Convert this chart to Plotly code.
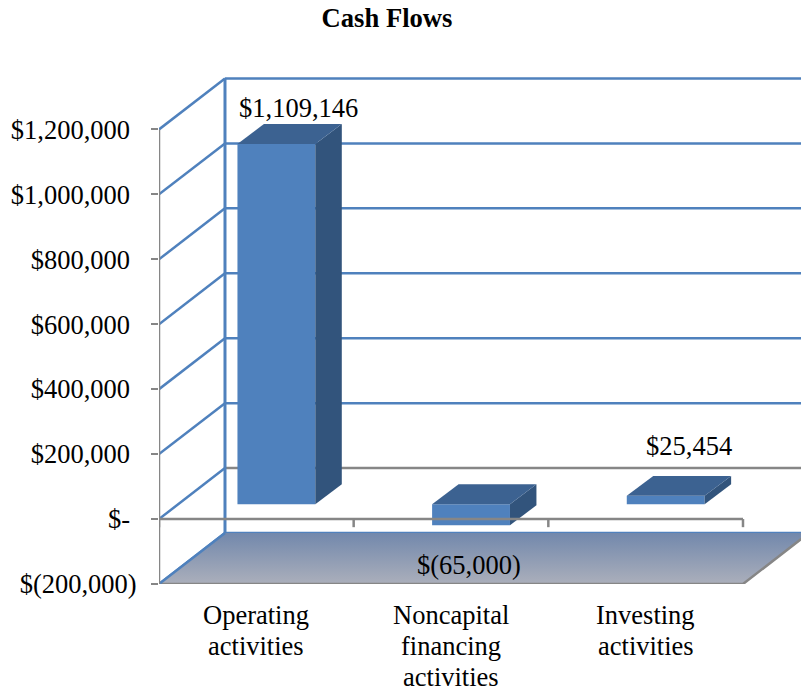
import plotly.graph_objects as go

# Values
categories = [["Operating", "activities"], ["Noncapital", "financing", "activities"], ["Investing", "activities"]]
cash_flows = [1109146, -65000, 25454]
value_labels = ["$1,109,146", "$(65,000)", "$25,454"]
y_ticks = [-200000, 0, 200000, 400000, 600000, 800000, 1000000, 1200000]
y_tick_labels = ["$(200,000)", "$-\u00a0", "$200,000\u00a0", "$400,000\u00a0", "$600,000\u00a0",
                 "$800,000\u00a0", "$1,000,000\u00a0", "$1,200,000\u00a0"]

# Fake 3D: everything is an oblique offset in data units
N = len(categories)
X_MAX = 3.298
Y_MIN = -200000
Y_MAX = 1380000
WALL_DX, WALL_DY = 0.339, 157000
LIFT_DX, LIFT_DY = 0.103, 46000
BAR_DX, BAR_DY = 0.136, 61500
BAR_W = 0.40

BLUE = "#4f81bd"
GRAY = "#868686"
FONT = "Liberation Serif"
TEXT_SIZE = 26.5

# px offsets of the data labels from the end of the front face
label_shift = [(22, 36), (-2, -40), (23, 50)]

fig = go.Figure()

# Walls go under the bars
shapes = []
for v in y_ticks:
    back_color = GRAY if v == 0 else BLUE
    shapes.append(dict(type="line", layer="below", x0=WALL_DX, x1=X_MAX + 0.1, y0=v + WALL_DY, y1=v + WALL_DY,
                       line=dict(color=back_color, width=2.5)))
    shapes.append(dict(type="line", layer="below", x0=0, x1=WALL_DX, y0=v, y1=v + WALL_DY,
                       line=dict(color=BLUE, width=2.5)))
shapes.append(dict(type="line", layer="below", x0=WALL_DX, x1=WALL_DX, y0=Y_MIN + WALL_DY, y1=y_ticks[-1] + WALL_DY,
                   line=dict(color=BLUE, width=3)))

# Floor
fig.add_trace(go.Scatter(
    x=[0, N, N + WALL_DX, WALL_DX, 0],
    y=[Y_MIN, Y_MIN, Y_MIN + WALL_DY, Y_MIN + WALL_DY, Y_MIN],
    mode="lines", fill="toself", line=dict(width=0), hoverinfo="skip",
    fillgradient=dict(type="vertical", colorscale=[[0, "#abafbb"], [1, "#7288ac"]]),
))
fig.add_trace(go.Scatter(
    x=[0, N, N + WALL_DX], y=[Y_MIN, Y_MIN, Y_MIN + WALL_DY],
    mode="lines", line=dict(color=GRAY, width=2.5), cliponaxis=False, hoverinfo="skip",
))
fig.add_trace(go.Scatter(
    x=[0, WALL_DX], y=[Y_MIN, Y_MIN + WALL_DY],
    mode="lines", line=dict(color=BLUE, width=2.5), cliponaxis=False, hoverinfo="skip",
))

# Left axis line, stops at the top tick
fig.add_trace(go.Scatter(
    x=[0, 0], y=[Y_MIN, y_ticks[-1]],
    mode="lines", line=dict(color=GRAY, width=2.5), cliponaxis=False, hoverinfo="skip",
))

# Front faces
centers = [i + 0.5 + LIFT_DX for i in range(N)]
fig.add_trace(go.Bar(
    x=centers, y=cash_flows, base=[LIFT_DY] * N, width=BAR_W,
    marker=dict(color=BLUE, line=dict(width=0)), hoverinfo="skip",
))

# Side and top faces
for c, v in zip(centers, cash_flows):
    left, right = c - BAR_W / 2, c + BAR_W / 2
    low, high = LIFT_DY + min(v, 0), LIFT_DY + max(v, 0)
    fig.add_trace(go.Scatter(
        x=[right, right + BAR_DX, right + BAR_DX, right, right],
        y=[low, low + BAR_DY, high + BAR_DY, high, low],
        mode="lines", fill="toself", fillcolor="#32547c", line=dict(width=0), hoverinfo="skip",
    ))
    fig.add_trace(go.Scatter(
        x=[left, right, right + BAR_DX, left + BAR_DX, left],
        y=[high, high, high + BAR_DY, high + BAR_DY, high],
        mode="lines", fill="toself", fillcolor="#3c6291", line=dict(width=0), hoverinfo="skip",
    ))

# Front zero line with its category ticks, drawn over the bars
line_x, line_y = [0, N, None], [0, 0, None]
for i in range(N + 1):
    line_x += [i, i, None]
    line_y += [0, -25000, None]
fig.add_trace(go.Scatter(x=line_x, y=line_y, mode="lines", line=dict(color=GRAY, width=2.5),
                         cliponaxis=False, hoverinfo="skip"))

annotations = []
for c, v, text, (sx, sy) in zip(centers, cash_flows, value_labels, label_shift):
    annotations.append(dict(x=c, y=LIFT_DY + v, text=text, showarrow=False, xanchor="center", yanchor="middle",
                            xshift=sx, yshift=sy, font=dict(family=FONT, size=TEXT_SIZE, color="black")))

# Category labels line by line, the spacing is tighter than a <br> gives
for i, lines in enumerate(categories):
    for j, line in enumerate(lines):
        annotations.append(dict(x=i + 0.5, y=Y_MIN, text=line, showarrow=False, xanchor="center", yanchor="middle",
                                yshift=-31 - 31 * j, font=dict(family=FONT, size=TEXT_SIZE, color="black")))

fig.update_layout(
    width=801,
    height=687,
    margin=dict(l=159, r=0, t=71, b=103),
    paper_bgcolor="white",
    plot_bgcolor="white",
    showlegend=False,
    title=dict(text="<b>Cash Flows</b>", x=387 / 801, xanchor="center", y=1 - 18 / 687, yanchor="middle",
               font=dict(family=FONT, size=26.6, color="black")),
    xaxis=dict(range=[0, X_MAX], showgrid=False, zeroline=False, showticklabels=False, ticks=""),
    yaxis=dict(range=[Y_MIN, Y_MAX], tickvals=y_ticks, ticktext=y_tick_labels, showgrid=False, zeroline=False,
               ticks="outside", ticklen=7, tickcolor=GRAY, tickwidth=2,
               ticklabelstandoff=9, tickfont=dict(family=FONT, size=TEXT_SIZE, color="black")),
    shapes=shapes,
    annotations=annotations,
)

# the default page leaves an 8px body margin
fig.write_html("out.html", config=dict(displayModeBar=False), post_script="document.body.style.margin = '0';")
